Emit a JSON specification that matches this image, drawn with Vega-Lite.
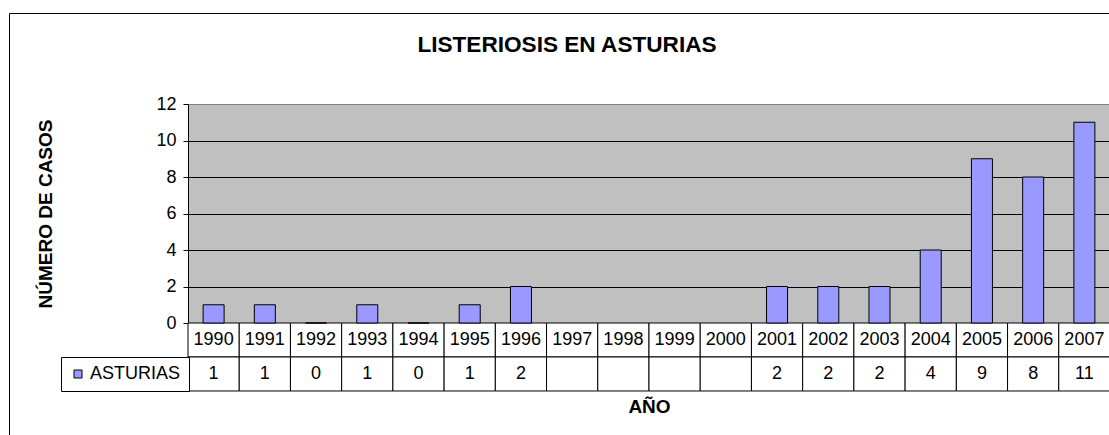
{
  "$schema": "https://vega.github.io/schema/vega-lite/v6.json",
  "width": 1116,
  "height": 427,
  "autosize": {"type": "none"},
  "padding": {"left": 9, "top": 13, "right": 0, "bottom": 0},
  "background": "white",
  "title": {"text": "LISTERIOSIS EN ASTURIAS", "frame": "group", "anchor": "middle", "font": "Liberation Sans", "fontSize": 22.6, "fontWeight": "bold", "color": "black", "baseline": "alphabetic", "offset": -62},
  "config": {"view": {"stroke": "black", "strokeWidth": 1, "fill": "white"}, "font": "Liberation Sans"},
  "resolve": {"axis": {"y": "independent"}},
  "data": {"values": [
    {"year": 1990, "value": 1}, {"year": 1991, "value": 1}, {"year": 1992, "value": 0},
    {"year": 1993, "value": 1}, {"year": 1994, "value": 0}, {"year": 1995, "value": 1},
    {"year": 1996, "value": 2}, {"year": 1997, "value": null}, {"year": 1998, "value": null},
    {"year": 1999, "value": null}, {"year": 2000, "value": null}, {"year": 2001, "value": 2},
    {"year": 2002, "value": 2}, {"year": 2003, "value": 2}, {"year": 2004, "value": 4},
    {"year": 2005, "value": 9}, {"year": 2006, "value": 8}, {"year": 2007, "value": 11}
  ]},
  "layer": [
    {
      "mark": {"type": "rect", "fill": "white", "stroke": "black", "strokeWidth": 1},
      "encoding": {
        "x": {"field": "year", "type": "ordinal",
          "scale": {"range": [179, 1101], "paddingInner": 0, "paddingOuter": 0},
          "axis": {"title": "AÑO", "labels": false, "ticks": false, "domain": false, "grid": false, "offset": -49, "titlePadding": 6, "titleFont": "Liberation Sans", "titleFontSize": 19, "titleFontWeight": "bold", "titleColor": "black"}},
        "y": {"datum": 0, "type": "quantitative",
          "scale": {"domain": [0, 12], "range": [310, 91], "nice": false, "zero": false},
          "axis": {"orient": "left", "offset": -179, "values": [6], "grid": true, "gridColor": "#C0C0C0", "gridWidth": 219, "domain": false, "ticks": false, "labels": false, "title": null, "zindex": 0}},
        "y2": {"datum": -1.863}
      }
    },
    {
      "mark": {"type": "rect", "fill": "white", "stroke": "black", "strokeWidth": 1},
      "encoding": {
        "x": {"field": "year", "type": "ordinal"},
        "y": {"datum": -1.863, "type": "quantitative", "axis": null},
        "y2": {"datum": -3.726}
      }
    },
    {
      "mark": {"type": "bar", "width": {"band": 0.41}, "stroke": "black", "strokeWidth": 1},
      "encoding": {
        "x": {"field": "year", "type": "ordinal"},
        "y": {"field": "value", "type": "quantitative",
          "axis": {"orient": "left", "values": [0, 2, 4, 6, 8, 10, 12], "grid": true,
            "gridColor": {"condition": {"test": "datum.value === 12", "value": "#808080"}, "value": "black"},
            "gridWidth": 1, "domain": true, "domainColor": "black", "ticks": true, "tickColor": "black", "tickSize": 5,
            "labelPadding": 7, "labelFontSize": 18, "labelColor": "black", "labelFont": "Liberation Sans",
            "offset": -179, "zindex": 0, "title": "NÚMERO DE CASOS", "titleFont": "Liberation Sans", "titleFontSize": 19, "titleFontWeight": "bold", "titlePadding": 100, "titleColor": "black"}},
        "color": {"datum": "ASTURIAS", "type": "nominal", "scale": {"range": ["#9999FF"]},
          "legend": {"orient": "none", "legendX": 52, "legendY": 344, "strokeColor": "black", "padding": 8, "symbolType": "square", "symbolSize": 64, "symbolStrokeColor": "black", "symbolStrokeWidth": 1, "labelFontSize": 18, "labelFont": "Liberation Sans", "labelColor": "black", "labelOffset": 3, "title": null, "fillColor": "white"}}
      }
    },
    {
      "mark": {"type": "text", "fontSize": 18, "font": "Liberation Sans", "color": "black", "baseline": "middle", "align": "center"},
      "encoding": {
        "x": {"field": "year", "type": "ordinal"},
        "y": {"datum": -0.93, "type": "quantitative", "axis": null},
        "text": {"field": "year", "type": "ordinal"}
      }
    },
    {
      "transform": [{"filter": "datum.value != null"}],
      "mark": {"type": "text", "fontSize": 18, "font": "Liberation Sans", "color": "black", "baseline": "middle", "align": "center"},
      "encoding": {
        "x": {"field": "year", "type": "ordinal"},
        "y": {"datum": -2.795, "type": "quantitative", "axis": null},
        "text": {"field": "value", "type": "quantitative"}
      }
    }
  ]
}
